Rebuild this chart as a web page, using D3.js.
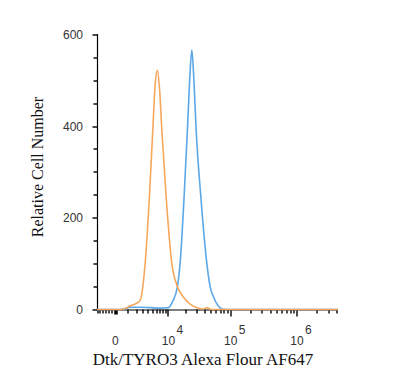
<!DOCTYPE html>
<html>
<head>
<meta charset="utf-8">
<script src="https://cdn.jsdelivr.net/npm/d3@7"></script>
<style>
  body { margin: 0; background: #fff; }
  .tick text { font-family: "Liberation Sans", Arial, sans-serif; font-size: 12px; fill: #333; }
  .title { font-family: "Liberation Serif", "Times New Roman", serif; font-size: 16px; fill: #111; }
</style>
</head>
<body>
<div id="chart"></div>
<script>
// fluorescence values (biexponential-like axis) and counts for each histogram
var orangeX = [-1900, 271, 698, 1205, 1807, 2522, 3372, 4228, 5000, 5578, 6200, 6848, 7546, 9068, 11470, 14330, 17870, 23280, 30180, 37560, 43400, 50100, 4100000];
var orangeY = [0, 0, 2, 8, 12, 20, 100, 247, 393, 490, 523, 480, 393, 247, 101, 50, 28, 12, 4, 1, 4, 0, 0];
var blueX = [-1900, 271, 698, 1205, 2522, 4380, 7000, 9860, 12080, 14330, 15920, 18560, 21040, 22860, 24810, 26820, 29100, 34540, 42930, 48320, 54380, 64280, 74080, 85300, 4100000];
var blueY = [0, 0, 2, 5, 5, 4, 3, 4, 20, 50, 101, 247, 393, 500, 567, 500, 393, 247, 101, 50, 28, 8, 1, 0, 0];

var xMajor = [0, 1e4, 1e5, 1e6];
var xMajorLabels = ["0", "4", "5", "6"];
var xMinor = [-1800, -1500, -1200, -900, -600, -300,
              1000, 2000, 3000, 4000, 5000, 6000, 7000, 8000, 9000,
              2e4, 3e4, 4e4, 5e4, 6e4, 7e4, 8e4, 9e4,
              2e5, 3e5, 4e5, 5e5, 6e5, 7e5, 8e5, 9e5,
              2e6, 3e6, 4e6];
var yMajor = [0, 200, 400, 600];
var yMinor = [50, 100, 150, 250, 300, 350, 450, 500, 550];

function init() {
    var w = 400, h = 378;

    var svg = d3.select("#chart").append("svg")
        .attr("width", w)
        .attr("height", h);

    var x = d3.scaleSymlog()
        .constant(2000)
        .domain([-1900, 4100000])
        .range([97, 338]);

    var y = d3.scaleLinear()
        .domain([0, 600])
        .range([309.5, 35]);

    var x0 = 97, y0 = 309.5;

    function xTicks(vals, len) {
        return vals.map(function(v) { return "M" + Math.round(x(v)) + "," + y0 + "v" + len; }).join("");
    }
    function yTicks(vals, len) {
        return vals.map(function(v) { return "M" + (x0 + 0.5) + "," + Math.round(y(v)) + "h" + (-len); }).join("");
    }

    // axis lines
    svg.append("path")
        .attr("d", "M" + (x0 + 0.5) + ",34V" + (y0 + 0.5) + "H338")
        .attr("fill", "none").attr("stroke", "#000").attr("stroke-width", 1.2);

    // ticks
    svg.append("path").attr("d", xTicks(xMinor, 4))
        .attr("stroke", "#111").attr("stroke-width", 1.5).attr("fill", "none");
    svg.append("path").attr("d", xTicks(xMajor.slice(1), 7))
        .attr("stroke", "#111").attr("stroke-width", 1.5).attr("fill", "none");
    svg.append("path").attr("d", xTicks([0], 5))
        .attr("stroke", "#000").attr("stroke-width", 3.5).attr("fill", "none");
    svg.append("path").attr("d", yTicks(yMinor, 4))
        .attr("stroke", "#111").attr("stroke-width", 1.5).attr("fill", "none");
    svg.append("path").attr("d", yTicks(yMajor, 5))
        .attr("stroke", "#111").attr("stroke-width", 1.5).attr("fill", "none");

    // y labels through the axis generator (no lines, no domain)
    var yg = svg.append("g")
        .attr("transform", "translate(" + x0 + ",0)")
        .call(d3.axisLeft(y).tickValues(yMajor).tickSize(0).tickPadding(14));
    yg.select(".domain").remove();

    // x labels, 10 with superscript exponent
    xMajor.forEach(function(v, i) {
        var t = svg.append("text")
            .attr("x", x(v))
            .attr("y", 345)
            .attr("text-anchor", "middle")
            .style("font-family", "Liberation Sans, Arial, sans-serif")
            .style("font-size", "12px")
            .style("fill", "#333");
        if (i === 0) {
            t.attr("x", x(v) - 1).text(xMajorLabels[i]);
        } else {
            t.text("10");
            svg.append("text")
                .attr("x", x(v) + 8)
                .attr("y", 334)
                .style("font-family", "Liberation Sans, Arial, sans-serif")
                .style("font-size", "12px")
                .style("fill", "#333")
                .text(xMajorLabels[i]);
        }
    });

    // histograms
    var line = d3.line()
        .x(function(d) { return x(d[0]); })
        .y(function(d) { return y(d[1]); })
        .curve(d3.curveMonotoneX);

    svg.append("path")
        .datum(d3.zip(blueX, blueY))
        .attr("d", line)
        .attr("fill", "none")
        .attr("stroke", "#5ba8e8")
        .attr("stroke-width", 1.6);

    svg.append("path")
        .datum(d3.zip(orangeX, orangeY))
        .attr("d", line)
        .attr("fill", "none")
        .attr("stroke", "#f6a75c")
        .attr("stroke-width", 1.6);

    // titles
    svg.append("text")
        .attr("class", "title")
        .attr("x", 203)
        .attr("y", 365)
        .attr("text-anchor", "middle")
        .style("font-size", "17px")
        .text("Dtk/TYRO3 Alexa Flour AF647");

    svg.append("text")
        .attr("class", "title")
        .attr("transform", "translate(43,167) rotate(-90)")
        .attr("text-anchor", "middle")
        .text("Relative Cell Number");
}
window.onload = init;
</script>
</body>
</html>
